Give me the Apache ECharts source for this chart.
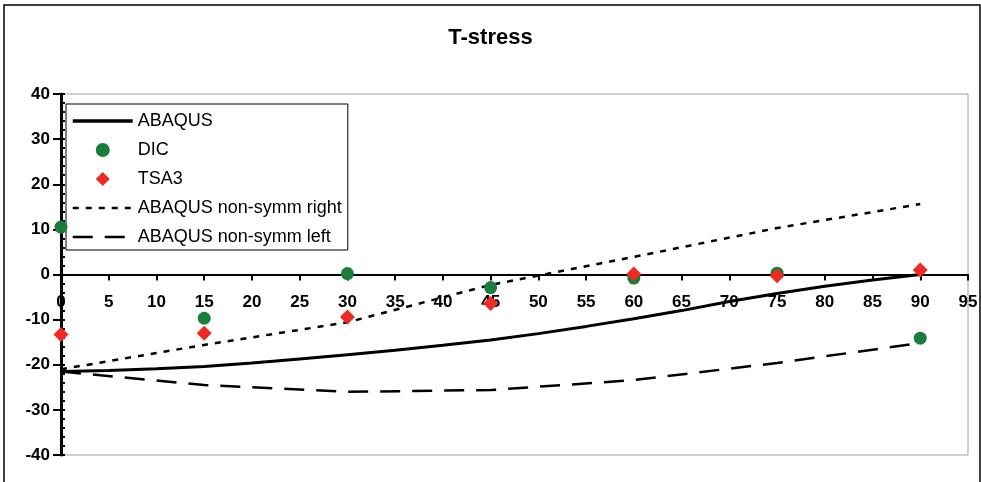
<!DOCTYPE html>
<html>
<head>
<meta charset="utf-8">
<script src="https://cdn.jsdelivr.net/npm/echarts@6/dist/echarts.min.js"></script>
<style>
html,body{margin:0;padding:0;background:#fff;}
#chart{width:981px;height:482px;}
</style>
</head>
<body>
<div id="chart"></div>
<script>
const angles = [0, 15, 30, 45, 60, 75, 90];
const abaqusX = [0, 5, 10, 15, 20, 25, 30, 35, 40, 45, 50, 55, 60, 65, 70, 75, 80, 85, 90];
const abaqusY = [-21.5, -21.3, -20.9, -20.4, -19.6, -18.7, -17.8, -16.8, -15.7, -14.5, -13.1, -11.5, -9.8, -8.0, -6.0, -4.2, -2.6, -1.2, 0];
const dic = [10.5, -9.7, 0.2, -2.9, -0.8, 0.3, -14.1];
const tsa3 = [-13.3, -13.0, -9.4, -6.4, 0.1, -0.3, 1.0];
const nonSymmRight = [-21.0, -15.6, -10.6, -2.3, 3.9, 10.3, 15.6];
const nonSymmLeft = [-21.5, -24.5, -26.0, -25.6, -23.4, -19.6, -15.2];
const xTicks = {min: 0, max: 95, step: 5};
const yTicks = {min: -40, max: 40, step: 10};

const zip = (xs, ys) => xs.map((x, i) => [x, ys[i]]);
const green = '#1b7d3d', red = '#ee2a24';
const font = 'Arial, "Liberation Sans", sans-serif';

const gridTop = 94, gridBottom = 27, chartH = 482;
const plotH = chartH - gridTop - gridBottom;
const zeroOffset = -plotH * (0 - yTicks.min) / (yTicks.max - yTicks.min);
const noSymbol = {opacity: 0};
const solidStyle = {color: '#000', width: 3};
const dotStyle = {color: '#000', width: 2.5, type: [6, 7]};
const dashStyle = {color: '#000', width: 2.5, type: [20, 12]};

const chart = echarts.init(document.getElementById('chart'), null, {renderer: 'canvas'});
chart.setOption({
  animation: false,
  backgroundColor: '#fff',
  title: {
    text: 'T-stress', left: 'center', top: 22,
    textStyle: {fontFamily: font, fontSize: 22, fontWeight: 'bold', color: '#000'}
  },
  graphic: [{
    type: 'rect', shape: {x: 4, y: 5, width: 976, height: 500},
    style: {fill: 'none', stroke: '#000', lineWidth: 1.5}, silent: true, z: -1
  }],
  grid: {
    left: 61, right: 13, top: gridTop, bottom: gridBottom, show: true,
    borderColor: '#a0a0a0', borderWidth: 1, backgroundColor: 'transparent'
  },
  legend: {
    orient: 'vertical', left: 66, top: 104,
    backgroundColor: '#fff', borderColor: '#000', borderWidth: 1,
    padding: [8, 6, 4, 5], itemGap: 11, itemWidth: 60, itemHeight: 14,
    textStyle: {fontFamily: font, fontSize: 18, color: '#000'},
    data: [
      {name: 'ABAQUS', itemStyle: noSymbol, lineStyle: {width: 3.5}},
      {name: 'DIC'},
      {name: 'TSA3', icon: 'path://M0,-1 L1,0 L0,1 L-1,0 Z'},
      {name: 'ABAQUS non-symm right', itemStyle: noSymbol, lineStyle: {width: 2.5}},
      {name: 'ABAQUS non-symm left', itemStyle: noSymbol, lineStyle: {width: 2.5}}
    ]
  },
  xAxis: {
    type: 'value', min: xTicks.min, max: xTicks.max, interval: xTicks.step,
    position: 'bottom', offset: zeroOffset,
    axisLine: {onZero: false, lineStyle: {color: '#000', width: 2}},
    axisTick: {show: true, length: 6, lineStyle: {color: '#000', width: 2}},
    axisLabel: {margin: 19, color: '#000', fontFamily: font, fontSize: 17, fontWeight: 'bold',
                showMinLabel: true, showMaxLabel: true},
    splitLine: {show: false}
  },
  yAxis: [{
    type: 'value', min: yTicks.min, max: yTicks.max, interval: yTicks.step, position: 'left',
    axisLine: {show: true, onZero: false, lineStyle: {color: '#000', width: 3}},
    axisTick: {show: true, length: 8, lineStyle: {color: '#000', width: 2}},
    axisLabel: {margin: 11, color: '#000', fontFamily: font, fontSize: 17, fontWeight: 'bold'},
    splitLine: {show: false}
  }, {
    type: 'value', min: yTicks.min, max: yTicks.max, interval: yTicks.step, position: 'left', offset: 0,
    axisLine: {show: false, onZero: false},
    axisTick: {show: true, inside: true, length: 4, lineStyle: {color: '#000', width: 2}},
    minorTick: {show: true, splitNumber: 5, length: 4, lineStyle: {color: '#000', width: 2}},
    axisLabel: {show: false},
    splitLine: {show: false}
  }],
  series: [
    {name: 'ABAQUS', type: 'line', data: zip(abaqusX, abaqusY), symbol: 'none', smooth: false,
     lineStyle: solidStyle, itemStyle: {color: '#000'}, z: 3},
    {name: 'DIC', type: 'scatter', data: zip(angles, dic), symbol: 'circle', symbolSize: 13,
     itemStyle: {color: green, opacity: 1}, z: 5},
    {name: 'TSA3', type: 'scatter', data: zip(angles, tsa3), symbol: 'diamond', symbolSize: 15,
     itemStyle: {color: red, opacity: 1}, z: 6},
    {name: 'ABAQUS non-symm right', type: 'line', data: zip(angles, nonSymmRight), symbol: 'none',
     lineStyle: dotStyle, itemStyle: {color: '#000'}, z: 2},
    {name: 'ABAQUS non-symm left', type: 'line', data: zip(angles, nonSymmLeft), symbol: 'none',
     lineStyle: dashStyle, itemStyle: {color: '#000'}, z: 2}
  ]
});
</script>
</body>
</html>
